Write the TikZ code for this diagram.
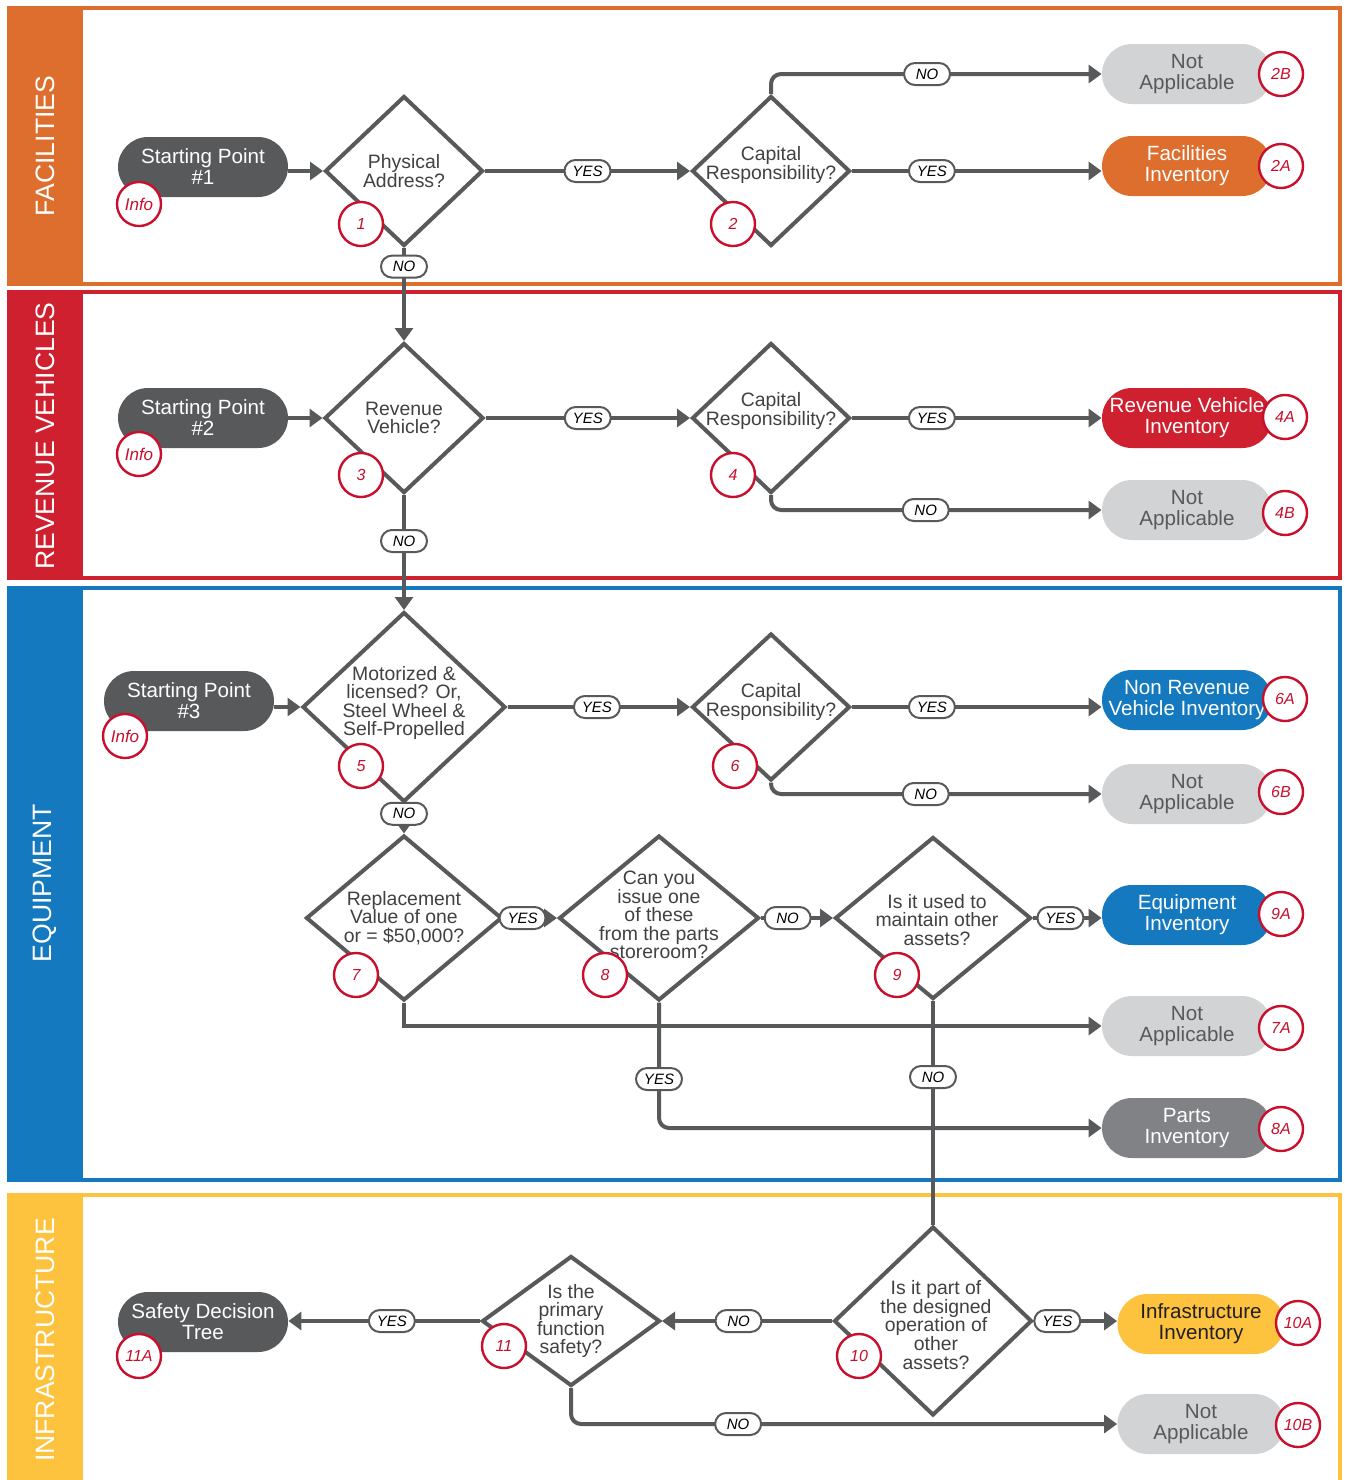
\documentclass[tikz,border=0pt]{standalone}
\usepackage{fontspec}
\setmainfont{Liberation Sans}
\usetikzlibrary{arrows.meta, shapes.geometric, calc}

\definecolor{facorange}{HTML}{DE6E2D}
\definecolor{revred}{HTML}{CF202F}
\definecolor{equipblue}{HTML}{1479BF}
\definecolor{infrayellow}{HTML}{FDC33F}
\definecolor{flowgray}{HTML}{58595B}
\definecolor{nagray}{HTML}{D1D3D4}
\definecolor{partsgray}{HTML}{808285}
\definecolor{tagred}{HTML}{C8102E}
\definecolor{qgray}{HTML}{414042}
\definecolor{inkdark}{HTML}{231F20}

\tikzset{
  flow/.style={draw=flowgray, line width=2pt, -{Triangle[length=6.5pt,width=9pt]}},
  link/.style={draw=flowgray, line width=2pt},
  pill/.style={rectangle, rounded corners=15pt, minimum width=85pt, minimum height=30pt,
    inner sep=0pt, align=center, font=\fontsize{10.3}{10.5}\selectfont},
  decision/.style={diamond, draw=flowgray, line width=2pt, fill=white, inner sep=0pt},
  qtext/.style={align=center, text=qgray, inner sep=0pt, font=\fontsize{9.7}{9.3}\selectfont},
  numtag/.style={circle, draw=tagred, line width=1.2pt, fill=white, minimum size=22pt,
    inner sep=0pt, text=tagred, font=\fontsize{8}{8}\itshape},
  answer/.style={draw=flowgray, line width=1pt, fill=white, rounded corners=5.5pt,
    minimum width=23pt, minimum height=11pt, inner sep=0pt, font=\fontsize{7.5}{8}\itshape},
  lanetitle/.style={rotate=90, text=white, font=\fontsize{13.3}{14}\selectfont}
}

\begin{document}
\begin{tikzpicture}[x=0.5pt, y=-0.5pt]
  \useasboundingbox (0,0) rectangle (1345,1480);
  \fill[white] (0,0) rectangle (1345,1480);

  % lanes
  \draw[facorange, line width=2pt] (9,8) rectangle (1340,284);
  \fill[facorange] (7,6) rectangle (83,286);
  \node[lanetitle] (facT) at (45,146) {FACILITIES};

  \draw[revred, line width=2pt] (9,292) rectangle (1340,578);
  \fill[revred] (7,290) rectangle (83,580);
  \node[lanetitle] (revT) at (45,436) {REVENUE VEHICLES};

  \draw[equipblue, line width=2pt] (9,588) rectangle (1340,1180);
  \fill[equipblue] (7,586) rectangle (83,1182);
  \node[lanetitle] (eqT) at (45,883) {EQUIPMENT};

  \draw[infrayellow, line width=2pt] (9,1490) -- (9,1195) -- (1340,1195) -- (1340,1490);
  \fill[infrayellow] (7,1193) rectangle (83,1490);
  \node[lanetitle] (infT) at (45,1340) {INFRASTRUCTURE};

  % facilities
  \node[pill, fill=flowgray, text=white] (start1) at (203,167) {Starting Point\\\#1};
  \node[decision, minimum width=79pt, minimum height=75pt,
    label={[qtext]center:{Physical\\Address?}}] (d1) at (404,171) {};
  \node[decision, minimum width=79pt, minimum height=75pt,
    label={[qtext, yshift=3pt]center:{Capital\\Responsibility?}}] (d2) at (771,171) {};
  \node[pill, fill=nagray, text=flowgray] (na2b) at (1187,74) {Not\\Applicable};
  \node[pill, fill=facorange, text=white] (inv2a) at (1187,166) {Facilities\\Inventory};

  % revenue vehicles
  \node[pill, fill=flowgray, text=white] (start2) at (203,418) {Starting Point\\\#2};
  \node[decision, minimum width=79.5pt, minimum height=75pt,
    label={[qtext]center:{Revenue\\Vehicle?}}] (d3) at (404,418) {};
  \node[decision, minimum width=79pt, minimum height=75pt,
    label={[qtext, yshift=3.5pt]center:{Capital\\Responsibility?}}] (d4) at (771,418) {};
  \node[pill, fill=revred, text=white] (inv4a) at (1187,418) {Revenue Vehicle\\Inventory};
  \node[pill, fill=nagray, text=flowgray] (na4b) at (1187,510) {Not\\Applicable};

  % equipment
  \node[pill, fill=flowgray, text=white] (start3) at (189,701) {Starting Point\\\#3};
  \node[decision, minimum width=101.5pt, minimum height=95pt,
    label={[qtext, yshift=2pt]center:{Motorized \&\\licensed? Or,\\Steel Wheel \&\\Self-Propelled}}] (d5) at (404,707) {};
  \node[decision, minimum width=79pt, minimum height=73.5pt,
    label={[qtext, yshift=2.5pt]center:{Capital\\Responsibility?}}] (d6) at (771,707) {};
  \node[pill, fill=equipblue, text=white] (inv6a) at (1187,700) {Non Revenue\\Vehicle Inventory};
  \node[pill, fill=nagray, text=flowgray] (na6b) at (1187,794) {Not\\Applicable};

  \node[decision, minimum width=98pt, minimum height=82.5pt,
    label={[qtext]center:{Replacement\\Value of one\\or = \$50,000?}}] (d7) at (404,918) {};
  \node[decision, minimum width=100pt, minimum height=82.5pt,
    label={[qtext, yshift=1.5pt]center:{Can you\\issue one\\of these\\from the parts\\storeroom?}}] (d8) at (659,918) {};
  \node[decision, minimum width=98pt, minimum height=81pt,
    label={[qtext, xshift=2pt, yshift=-1pt]center:{Is it used to\\maintain other\\assets?}}] (d9) at (933,918) {};
  \node[pill, fill=equipblue, text=white] (inv9a) at (1187,915) {Equipment\\Inventory};
  \node[pill, fill=nagray, text=flowgray] (na7a) at (1187,1026) {Not\\Applicable};
  \node[pill, fill=partsgray, text=white] (parts8a) at (1187,1128) {Parts\\Inventory};

  % infrastructure
  \node[decision, minimum width=99pt, minimum height=94.5pt,
    label={[qtext, xshift=1.5pt, yshift=-2pt]center:{Is it part of\\the designed\\operation of\\other\\assets?}}] (d10) at (933,1321) {};
  \node[decision, minimum width=89pt, minimum height=65pt,
    label={[qtext]center:{Is the\\primary\\function\\safety?}}] (d11) at (571,1321) {};
  \node[pill, fill=flowgray, text=white] (safety) at (203,1322) {Safety Decision\\Tree};
  \node[pill, fill=infrayellow, text=inkdark, minimum width=83.5pt] (inv10a) at (1201,1324) {Infrastructure\\Inventory};
  \node[pill, fill=nagray, text=flowgray, minimum width=83.5pt] (na10b) at (1201,1424) {Not\\Applicable};

  % connectors
  \draw[flow] (d1.west -| start1.east) -- (d1.west);
  \draw[flow] (d1.east) -- node[answer, pos=0.5]{YES} (d2.west);
  \draw[flow] (d2.east) -- node[answer, pos=0.32]{YES} (d2.east -| inv2a.west);
  \draw[flow, rounded corners=5pt] (d2.north) |- node[answer, pos=0.736]{NO} (na2b.west);
  \draw[flow] (d1.south) -- node[answer, pos=0.2]{NO} (d3.north);

  \draw[flow] (d3.west -| start2.east) -- (d3.west);
  \draw[flow] (d3.east) -- node[answer, pos=0.5]{YES} (d4.west);
  \draw[flow] (d4.east) -- node[answer, pos=0.32]{YES} (inv4a.west);
  \draw[flow, rounded corners=5pt] (d4.south) |- node[answer, pos=0.734]{NO} (na4b.west);
  \draw[flow] (d3.south) -- node[answer, pos=0.4]{NO} (d5.north);

  \draw[flow] (d5.west -| start3.east) -- (d5.west);
  \draw[flow] (d5.east) -- node[answer, pos=0.49]{YES} (d6.west);
  \draw[flow] (d6.east) -- node[answer, pos=0.32]{YES} (d6.east -| inv6a.west);
  \draw[flow, rounded corners=5pt] (d6.south) |- node[answer, pos=0.734]{NO} (na6b.west);
  \draw[flow] (d5.south) -- node[answer, pos=0.33]{NO} (d7.north);

  \draw[flow] (d7.east) -- node[answer, pos=0.35]{YES} (d8.west);
  \draw[flow] (d8.east) -- node[answer, pos=0.37]{NO} (d9.west);
  \draw[flow] (d9.east) -- node[answer, pos=0.4]{YES} (d9.east -| inv9a.west);
  \draw[flow] (d7.south) |- (na7a.west);
  \draw[flow, rounded corners=5pt] (d8.south) |- node[answer, pos=0.305]{YES} (parts8a.west);
  \draw[link] (d9.south) -- node[answer, pos=0.34]{NO} (d10.north);

  \draw[flow] (d10.east) -- node[answer, pos=0.28]{YES} (d10.east -| inv10a.west);
  \draw[flow] (d10.west) -- node[answer, pos=0.55]{NO} (d11.east);
  \draw[flow] (d11.west) -- node[answer, pos=0.46]{YES} (d11.west -| safety.east);
  \draw[flow, rounded corners=5pt] (d11.south) |- node[answer, pos=0.653]{NO} (na10b.west);

  % step tags
  \node[numtag, font=\fontsize{8.5}{8.5}\itshape] (info1) at (139,204) {Info};
  \node[numtag] (t1) at (361,224) {1};
  \node[numtag] (t2) at (733,224) {2};
  \node[numtag] (t2b) at (1281,74) {2B};
  \node[numtag] (t2a) at (1281,166) {2A};

  \node[numtag, font=\fontsize{8.5}{8.5}\itshape] (info2) at (139,454) {Info};
  \node[numtag] (t3) at (361,475) {3};
  \node[numtag] (t4) at (733,475) {4};
  \node[numtag] (t4a) at (1285,417) {4A};
  \node[numtag] (t4b) at (1285,513) {4B};

  \node[numtag, font=\fontsize{8.5}{8.5}\itshape] (info3) at (125,736) {Info};
  \node[numtag] (t5) at (361,766) {5};
  \node[numtag] (t6) at (735,766) {6};
  \node[numtag] (t6a) at (1285,699) {6A};
  \node[numtag] (t6b) at (1281,792) {6B};

  \node[numtag] (t7) at (356,975) {7};
  \node[numtag] (t8) at (605,975) {8};
  \node[numtag] (t9) at (897,975) {9};
  \node[numtag] (t9a) at (1281,914) {9A};
  \node[numtag] (t7a) at (1281,1028) {7A};
  \node[numtag] (t8a) at (1281,1129) {8A};

  \node[numtag] (t11a) at (139,1356) {11A};
  \node[numtag] (t11) at (504,1346) {11};
  \node[numtag] (t10) at (859,1356) {10};
  \node[numtag] (t10a) at (1298,1323) {10A};
  \node[numtag] (t10b) at (1298,1425) {10B};
\end{tikzpicture}
\end{document}
